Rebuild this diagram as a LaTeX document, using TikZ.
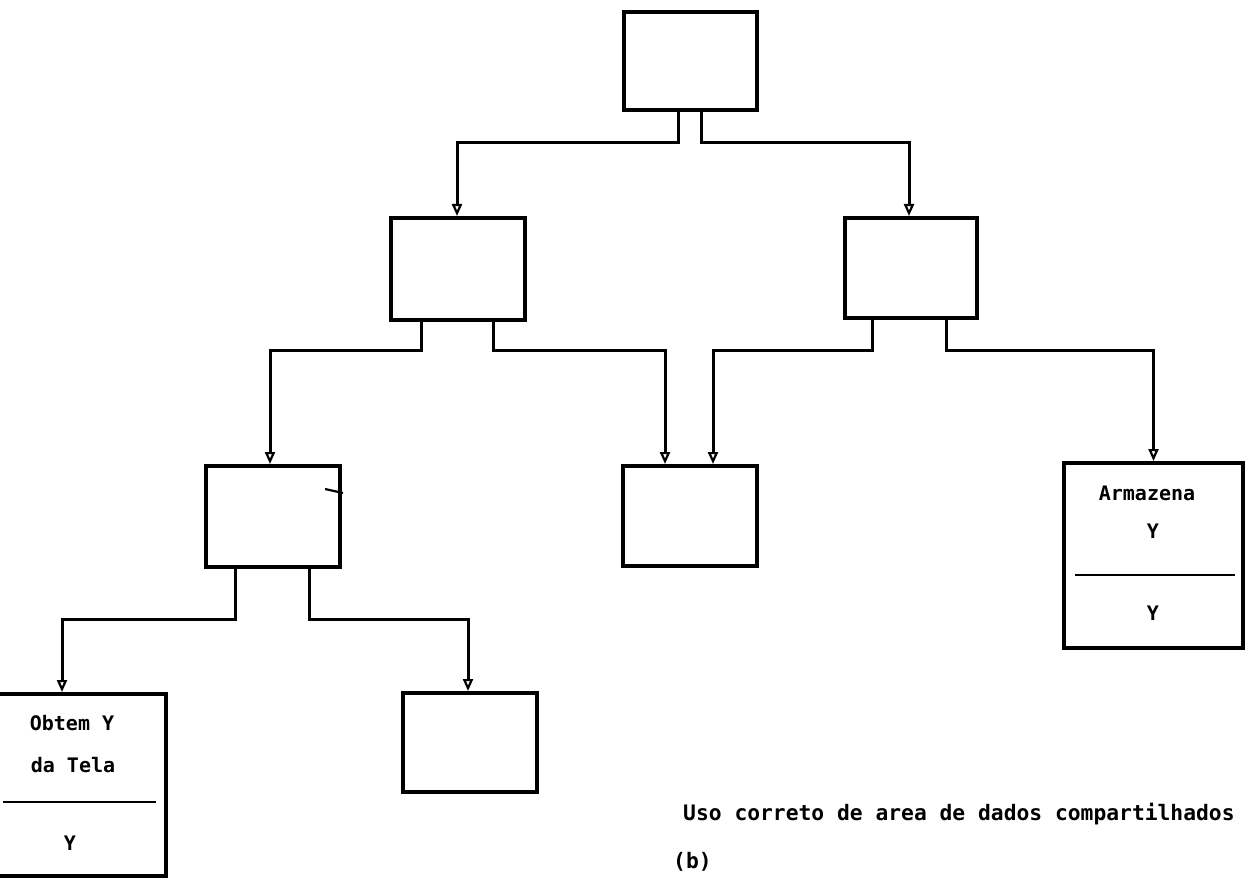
\documentclass[tikz,border=0pt]{standalone}
\usepackage{fontspec}
\setmonofont{DejaVu Sans Mono}
\usetikzlibrary{arrows.meta}

\begin{document}
\begin{tikzpicture}[x=1pt,y=-1pt,
  box/.style={draw, line width=4pt, inner sep=0pt},
  conn/.style={line width=3pt, -{Triangle[open,length=12pt,width=10pt,line width=2.2pt]}},
  lbl/.style={inner sep=0pt, font=\ttfamily\bfseries\fontsize{20}{22}\selectfont},
  captiontext/.style={inner sep=0pt, anchor=west, font=\ttfamily\bfseries\fontsize{21.3}{24}\selectfont},
  divider/.style={line width=2.6pt}]
  \useasboundingbox (0,0) rectangle (1246,882);
  \clip (0,0) rectangle (1246,882);

  % module boxes
  \node[box, minimum width=133pt, minimum height=98pt]  (T) at (690.5,61) {};
  \node[box, minimum width=134pt, minimum height=102pt] (L) at (458,269) {};
  \node[box, minimum width=132pt, minimum height=100pt] (R) at (911,268) {};
  \node[box, minimum width=134pt, minimum height=101pt] (B) at (273,516.5) {};
  \node[box, minimum width=134pt, minimum height=100pt] (M) at (690,516) {};
  \node[box, minimum width=179pt, minimum height=185pt] (A) at (1153.5,555.5) {};
  \node[box, minimum width=170pt, minimum height=182pt] (O) at (81,785) {};
  \node[box, minimum width=134pt, minimum height=99pt]  (P) at (470,742.5) {};

  % calls between modules
  \draw[conn] ([xshift=-12.5pt]T.south) -- ++(0,31) -| ([xshift=-1pt]L.north);
  \draw[conn] ([xshift=10.5pt]T.south)  -- ++(0,31) -| ([xshift=-2pt]R.north);
  \draw[conn] ([xshift=-37pt]L.south) -- ++(0,28) -| ([xshift=-3pt]B.north);
  \draw[conn] ([xshift=35pt]L.south)  -- ++(0,28) -| ([xshift=-25pt]M.north);
  \draw[conn] ([xshift=-39pt]R.south) -- ++(0,30) -| ([xshift=23pt]M.north);
  \draw[conn] ([xshift=35pt]R.south)  -- ++(0,30) -| (A.north);
  \draw[conn] ([xshift=-38pt]B.south) -- ++(0,50) -| ([xshift=-19pt]O.north);
  \draw[conn] ([xshift=36pt]B.south)  -- ++(0,50) -| ([xshift=-2pt]P.north);

  % small stroke on the right side of B
  \draw[line width=2.2pt] (325,489) -- (343,493);

  % store module
  \node[lbl] (a1) at (1147,493) {Armazena};
  \node[lbl] (a2) at (1153,531) {Y};
  \draw[divider] (1075,575) -- (1235,575);
  \node[lbl] (a3) at (1153,613) {Y};

  % screen input module
  \node[lbl] (o1) at (72,723) {Obtem Y};
  \node[lbl] (o2) at (73,765) {da Tela};
  \draw[divider] (3,802) -- (156,802);
  \node[lbl] (o3) at (70,843) {Y};

  % caption
  \node[captiontext] (c1) at (683,814) {Uso correto de area de dados compartilhados};
  \node[captiontext] (c2) at (673,862) {(b)};
\end{tikzpicture}
\end{document}
